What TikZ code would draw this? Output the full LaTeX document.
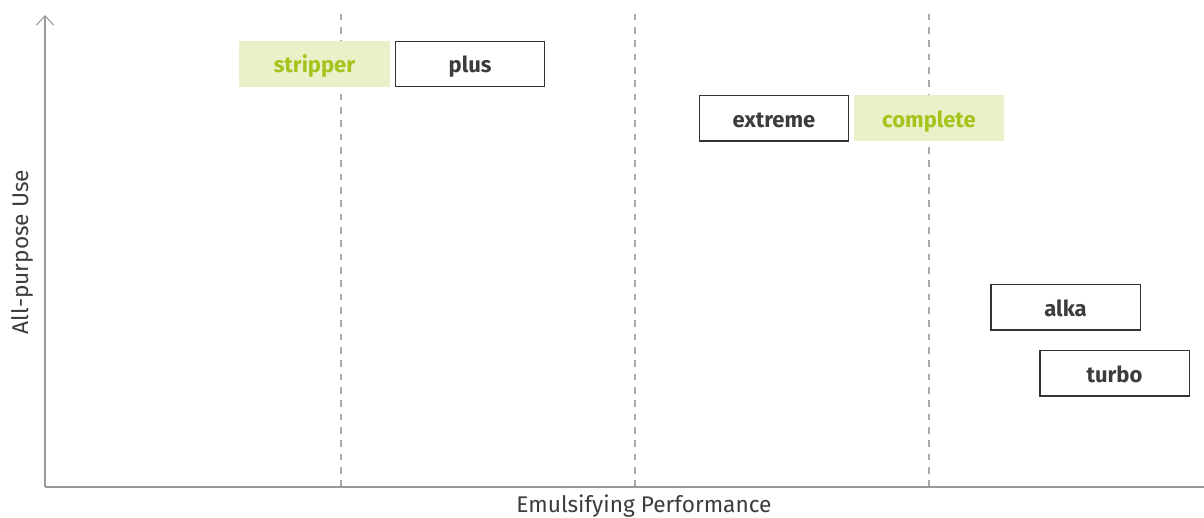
\documentclass[tikz,border=0pt]{standalone}
\usepackage{fontspec}
\setmainfont{Fira Sans}
\usepackage{tikz}
\usepackage{xcolor}
\usetikzlibrary{positioning,arrows.meta}

\definecolor{axisgray}{HTML}{9A9A9A}
\definecolor{dashgray}{HTML}{AAAAAA}
\definecolor{boxline}{HTML}{333333}
\definecolor{labeltext}{HTML}{3C3C3C}
\definecolor{limefill}{HTML}{EAF1C8}
\definecolor{limetext}{HTML}{A4C41C}

\tikzset{
	product/.style={draw=boxline, line width=1pt, minimum width=112pt, minimum height=34pt,
		inner sep=0pt, text height=16pt, text depth=3pt, text=labeltext,
		font=\fontsize{16.5}{19}\selectfont\bfseries},
	highlight/.style={fill=limefill, minimum width=113pt, minimum height=34.5pt,
		inner sep=0pt, text height=16pt, text depth=3pt, text=limetext,
		font=\fontsize{16.5}{19}\selectfont\bfseries},
	axislabel/.style={text=labeltext, font=\fontsize{17}{20}\selectfont}
}

\begin{document}
\begin{tikzpicture}[x=0.75pt, y=0.75pt]
		\useasboundingbox (0, 0) rectangle (1204, 518);
		% grid lines
		\foreach \gx in {341, 635, 929}
			\draw[dashgray, line width=0.8pt, dash pattern=on 5pt off 5pt] (\gx, 31) -- (\gx, 506);
		% axes
		\coordinate (origin) at (45, 31);
		\coordinate (ytop) at (45, 503);
		\coordinate (xend) at (1204, 31);
		\draw[axisgray, line width=0.8pt, -{Straight Barb[length=7pt, width=13pt]}] (origin) -- (ytop);
		\draw[axisgray, line width=0.8pt] (origin) -- (xend);
		\node[axislabel, rotate=90] (ylabel) at (22, 266) {All-purpose Use};
		\node[axislabel] (xlabel) at (644, 12) {Emulsifying Performance};
		% products
		\node[highlight] (stripper) at (314.5, 454) {stripper};
		\node[product, right=3.5pt of stripper] (plus) {plus};
		\node[product] (extreme) at (774, 399.5) {extreme};
		\node[highlight, right=3pt of extreme] (complete) {complete};
		\node[product] (alka) at (1065.5, 210.5) {alka};
		\node[product] (turbo) at (1114.5, 144.5) {turbo};
	\end{tikzpicture}
\end{document}
